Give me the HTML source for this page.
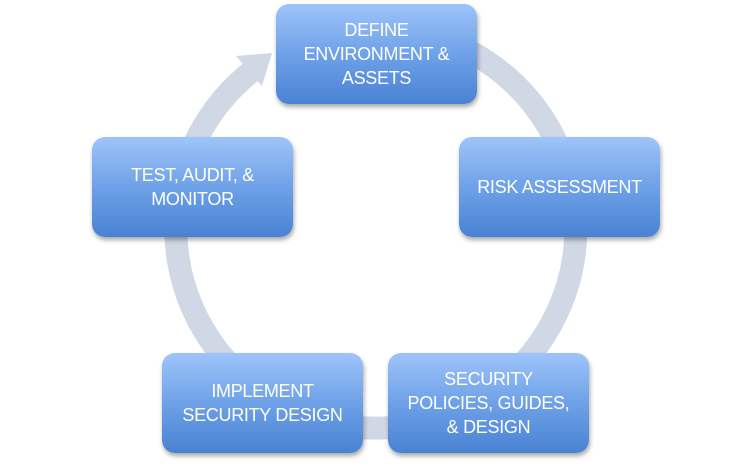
<!DOCTYPE html>
<html><head><meta charset="utf-8"><style>
html,body{margin:0;padding:0;background:#fff;width:752px;height:466px;overflow:hidden;position:relative}
.b{position:absolute;width:201px;height:100px;border-radius:13px;background:linear-gradient(#9ec4fa,#6a9ee6 55%,#4a82d3);box-shadow:1px 3px 5px rgba(0,0,0,0.35);display:flex;align-items:center;justify-content:center;text-align:center;color:#fff;font-family:"Liberation Sans",sans-serif;font-size:18px;line-height:24px;letter-spacing:-0.3px}
svg{position:absolute;left:0;top:0}
</style></head><body>
<svg width="752" height="466">
<path d="M410 31 A200 200 0 1 1 252 71" fill="none" stroke="#d0d7e5" stroke-width="23"/>
<polygon points="272,53 262,86 236,56" fill="#d0d7e5"/>
</svg>
<div class="b" style="left:276px;top:4px">DEFINE<br>ENVIRONMENT &amp;<br>ASSETS</div>
<div class="b" style="left:459px;top:137px">RISK ASSESSMENT</div>
<div class="b" style="left:388px;top:353px">SECURITY<br>POLICIES, GUIDES,<br>&amp; DESIGN</div>
<div class="b" style="left:162px;top:353px">IMPLEMENT<br>SECURITY DESIGN</div>
<div class="b" style="left:92px;top:137px">TEST, AUDIT, &amp;<br>MONITOR</div>
</body></html>
